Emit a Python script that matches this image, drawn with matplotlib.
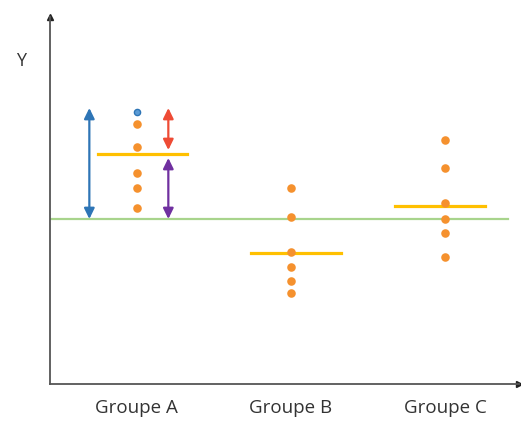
import numpy as np
import matplotlib
matplotlib.use("Agg")
import matplotlib.pyplot as plt

# ── données ──────────────────────────────────────────────
groupes = ["Groupe A", "Groupe B", "Groupe C"]
valeurs_a = [27.2, 26.0, 23.7, 21.1, 19.6, 17.6]   # le premier point est mis en évidence
valeurs_b = [19.6, 16.7, 13.2, 11.7, 10.3, 9.1]
valeurs_c = [24.4, 21.6, 18.1, 16.5, 15.1, 12.7]
moyennes = [23.0, 13.1, 17.8]
moyenne_generale = 16.5
idx_point = 0

ORANGE = "#F5912E"
BLEU = "#2E75B6"
JAUNE = "#FFC000"
VERT = "#A8D48C"
ROUGE = "#EE4B35"
VIOLET = "#7030A0"
TEXTE = "#333333"

plt.rcParams["font.family"] = ["Open Sans", "DejaVu Sans"]

fig = plt.figure(figsize=(5.21, 4.24), dpi=100)
ax = fig.add_axes([50 / 521, 40 / 424, 469 / 521, 367 / 424])

pos = np.arange(1, len(groupes) + 1)
decal = [0.04, 0.033, -0.034]   # petit décalage des traits de moyenne
ax.set_xlim(0.439, 3.479)
ax.set_ylim(0, 36.7)

# moyenne générale
ax.plot([0.439, 3.408], [moyenne_generale, moyenne_generale],
        color=VERT, linewidth=1.6, zorder=1)

# points et moyennes de groupe
for x, vals, m, d in zip(pos, [valeurs_a, valeurs_b, valeurs_c], moyennes, decal):
    ax.plot([x + d - 0.29, x + d + 0.29], [m, m], color=JAUNE, linewidth=2.3, zorder=2)
    vals = list(vals)
    if x == 1:
        ax.scatter([x], [vals[idx_point]], s=20, color="#5B9BD5", zorder=4,
                   edgecolors=BLEU, linewidths=1.0)
        vals = vals[:idx_point] + vals[idx_point + 1:]
    ax.scatter([x] * len(vals), vals, s=38, color=ORANGE, zorder=3, linewidths=0)

# flèches des écarts (groupe A)
pt = valeurs_a[idx_point]
fleche = dict(arrowstyle="<|-|>,head_length=0.45,head_width=0.22", linewidth=1.6,
              mutation_scale=14, shrinkA=0, shrinkB=0)
ax.annotate("", xy=(1 - 0.306, pt + 0.4), xytext=(1 - 0.306, moyenne_generale),
            arrowprops=dict(fleche, color=BLEU))
ax.annotate("", xy=(1 + 0.206, pt + 0.4), xytext=(1 + 0.206, moyennes[0] + 0.4),
            arrowprops=dict(fleche, color=ROUGE))
ax.annotate("", xy=(1 + 0.206, moyennes[0] - 0.4), xytext=(1 + 0.206, moyenne_generale),
            arrowprops=dict(fleche, color=VIOLET))

# axes avec flèches
for s in ["top", "right"]:
    ax.spines[s].set_visible(False)
ax.spines["left"].set_color("#555555")
ax.spines["bottom"].set_color("#555555")
ax.spines["left"].set_linewidth(1.3)
ax.spines["bottom"].set_linewidth(1.3)
ax.plot(0, 1, "^", color="#222222", markersize=5, transform=ax.transAxes, clip_on=False)
ax.plot(1, 0, ">", color="#222222", markersize=5, transform=ax.transAxes, clip_on=False)

ax.set_yticks([])
ax.set_xticks(pos)
ax.set_xticklabels(groupes, fontsize=13.5, color=TEXTE)
ax.tick_params(axis="x", length=0, pad=11)

fig.text(21 / 521, 1 - 61 / 424, "Y", fontsize=13, color=TEXTE, ha="center", va="center")

fig.savefig("out.png", dpi=100)
